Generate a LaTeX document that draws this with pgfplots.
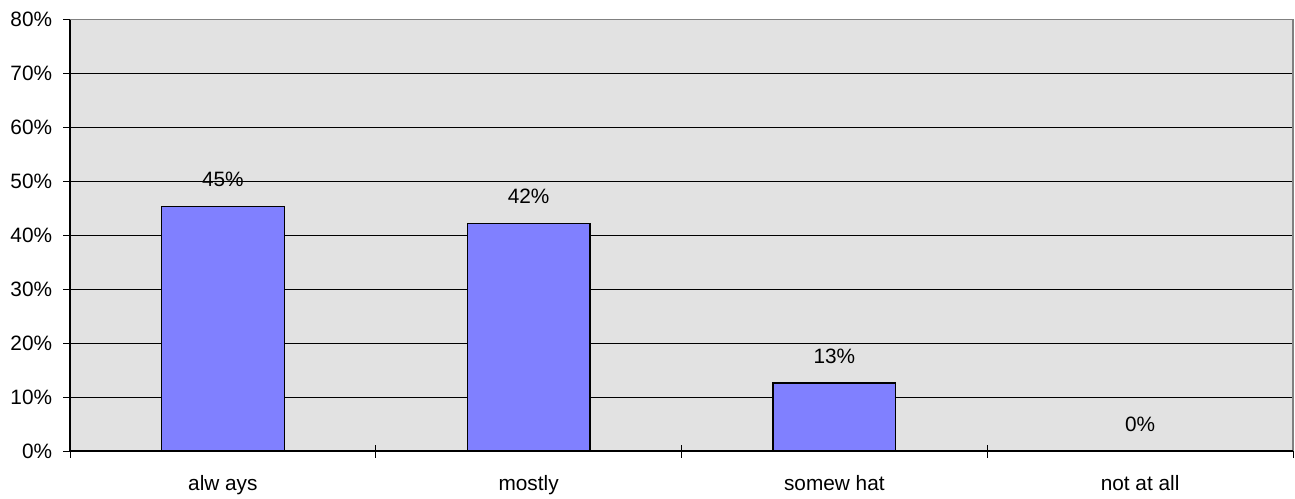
\documentclass[border=0pt]{standalone}
\usepackage{pgfplots}
\pgfplotsset{compat=1.18}
\usepackage{fontspec}
\setmainfont{Liberation Sans}
\definecolor{plotbg}{RGB}{226,226,226}
\definecolor{barfill}{RGB}{128,128,255}
\newcommand{\lblfont}{\fontsize{10.4pt}{12pt}\selectfont}
\begin{document}
\begin{tikzpicture}
\lblfont
\begin{axis}[
  scale only axis,
  width=611.5pt, height=215.75pt,
  at={(0,0)}, anchor=south west,
  xmin=-0.5, xmax=3.5,
  ymin=0, ymax=80,
  axis background/.style={fill=plotbg},
  axis line style={draw=none},
  xtick={-0.5,0.5,1.5,2.5,3.5},
  xticklabels={},
  extra x ticks={0,1,2,3},
  extra x tick labels={alw ays, mostly, somew hat, not at all},
  extra x tick style={grid=none, tick style={draw=none}},
  ytick={0,10,...,80},
  yticklabel={\pgfmathprintnumber{\tick}\%},
  tick style={draw=black, thin},
  major tick length=6.5pt,
  tick align=center,
  ymajorgrids,
  grid style={black, line width=0.5pt},
  xticklabel style={font=\lblfont, anchor=base, yshift=-16.5pt},
  yticklabel style={font=\lblfont, anchor=east, xshift=-5.5pt},
  every tick label/.append style={inner sep=0pt},
  /pgf/number format/assume math mode=true,
  xtick pos=bottom, ytick pos=left,
  clip=false,
]
\addplot[ybar, bar width=0.402, fill=barfill, draw=black, line width=0.6pt,
  nodes near coords={\pgfmathprintnumber[fixed,precision=0]{\pgfplotspointmeta}\%},
  every node near coord/.append style={anchor=center, yshift=13.5pt, font=\lblfont, black}]
  coordinates {(0,45.4) (1,42.2) (2,12.6) (3,0)};
\draw[gray, line width=0.6pt] (rel axis cs:0,1) -- (rel axis cs:1,1) -- (rel axis cs:1,0);
\draw[black, line width=0.6pt] (rel axis cs:0,1) -- (rel axis cs:0,0) -- (rel axis cs:1,0);
\end{axis}
\path[use as bounding box] ([shift={(-35pt,-23.5pt)}]current axis.south west) rectangle ([shift={(1pt,9.75pt)}]current axis.north east);
\end{tikzpicture}
\end{document}
